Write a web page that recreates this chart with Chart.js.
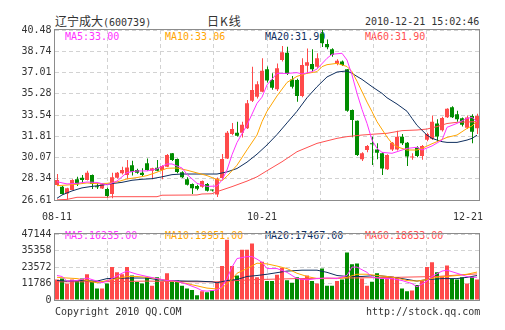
<!DOCTYPE html>
<html>
<head>
<meta charset="utf-8">
<script src="https://cdn.jsdelivr.net/npm/chart.js@4.4.0/dist/chart.umd.min.js"></script>
<style>
  body { margin: 0; background: #fff; }
  #box { position: relative; width: 505px; height: 330px; overflow: hidden;
         font-family: "DejaVu Sans Mono", monospace; font-size: 10px; color: #333; }
  #box canvas { position: absolute; left: 0; }
  .t { position: absolute; height: 12px; line-height: 12px; white-space: pre; }
  .cn { font-family: "Noto Sans CJK SC", sans-serif; font-size: 12px; }
</style>
</head>
<body>
<div id="box">
  <div class="t" style="left:55px;top:15px"><span class="cn">辽宁成大</span>(600739)</div>
  <div class="t cn" style="left:207px;top:15px;letter-spacing:1px">日K线</div>
  <div class="t" style="left:365px;top:16px">2010-12-21 15:02:46</div>
  <div id="legPx"></div>
  <div id="legVol"></div>
  <canvas id="kline" width="505" height="225" style="top:0"></canvas>
  <canvas id="vol" width="505" height="105" style="top:225px"></canvas>
  <div class="t" style="left:55px;top:306px">Copyright 2010 QQ.COM</div>
  <div class="t" style="left:366px;top:306px">http://stock.qq.com</div>
</div>
<script>
// 日K线 数据 (0 = 08-11 ... 84 = 12-21)
const openPx  = [27.83,27.70,27.15,27.43,28.30,28.43,28.24,28.65,27.70,27.55,27.50,27.10,28.43,28.79,28.65,29.44,29.06,28.84,29.60,29.00,
                 29.25,29.06,29.33,30.42,29.95,28.87,28.30,27.92,27.75,27.70,27.92,27.40,27.05,28.40,30.00,32.00,32.10,32.10,32.46,34.71,
                 35.04,35.45,37.27,36.40,35.64,38.03,38.63,36.45,36.40,35.10,37.57,37.70,37.49,40.20,39.34,38.90,37.71,37.90,37.27,33.95,
                 33.08,29.93,30.69,31.20,30.74,30.42,29.11,30.74,30.74,31.78,31.29,30.08,30.90,30.20,31.53,31.60,32.86,32.30,33.36,34.17,
                 33.60,33.28,32.50,33.46,32.46];
const highPx  = [28.73,27.75,27.60,28.30,28.50,28.65,29.00,28.70,27.97,28.00,27.60,28.84,28.90,29.33,29.87,29.82,29.15,29.20,30.00,29.25,
                 29.87,29.45,30.36,30.45,30.00,28.95,28.46,27.95,27.85,28.20,28.00,27.45,28.45,30.36,32.24,32.90,33.00,33.00,34.77,37.49,
                 36.30,38.17,37.50,36.95,37.75,39.17,39.12,36.72,36.50,38.17,38.98,38.90,38.58,40.48,39.70,39.00,38.10,38.00,37.30,34.00,
                 33.10,30.50,31.10,31.78,31.23,30.50,30.35,31.35,32.27,32.00,31.35,30.42,31.00,31.10,32.10,33.50,33.20,33.40,34.10,34.25,
                 33.90,33.35,33.50,33.60,33.65];
const lowPx   = [27.75,27.05,26.66,27.40,27.75,27.97,28.20,27.50,27.50,27.50,26.80,26.75,28.35,28.70,28.30,28.60,28.75,28.50,29.00,28.30,
                 28.95,28.30,29.30,29.80,28.80,28.40,27.80,27.10,27.40,27.60,27.30,27.30,26.85,28.30,29.95,31.90,31.80,31.70,32.40,34.60,
                 34.90,35.40,36.20,35.60,35.50,37.90,36.80,35.70,34.63,35.00,36.94,37.10,37.40,39.10,38.90,38.30,37.60,37.55,33.80,31.72,
                 30.20,29.80,30.50,29.46,29.93,28.65,29.05,30.60,30.65,31.10,29.38,29.90,30.10,29.90,31.40,31.50,31.45,32.20,33.30,33.30,
                 33.00,32.60,32.40,31.23,32.00];
const closePx = [28.24,27.10,27.56,28.24,27.90,28.24,28.84,27.92,27.66,27.90,26.94,28.46,28.84,29.06,29.27,28.92,28.84,28.65,29.06,29.20,
                 29.00,29.38,30.28,29.87,28.90,28.46,27.85,27.56,27.53,28.16,27.37,27.38,28.35,29.95,32.10,32.40,31.85,32.75,34.50,35.58,
                 36.05,37.16,36.35,35.77,37.35,38.66,36.89,35.86,35.10,37.62,37.84,37.27,38.17,39.40,39.07,38.44,37.98,37.62,33.90,33.14,
                 30.28,30.42,31.02,31.15,30.47,29.19,30.28,31.29,31.78,31.23,30.15,30.12,30.20,31.02,32.00,33.00,31.80,33.30,34.06,33.36,
                 33.20,32.75,33.35,32.18,33.46];
const volume  = [14600,15300,11700,14600,13900,15300,18400,13500,8300,8300,11700,23600,19800,18400,23600,17500,12800,11700,16200,10100,
                 16200,13000,19100,12800,13900,10100,8300,7200,3400,6300,5600,6700,12300,24200,43100,24200,17500,35900,35900,40400,
                 16200,27400,13500,13500,18000,22900,14100,12300,16200,15300,17500,13500,11700,22500,10100,10100,13500,14600,34000,25500,
                 26000,15300,10100,13000,19100,15300,16200,16800,16200,8300,6300,6700,10800,13500,23600,26900,19800,16800,24700,15300,
                 14600,16200,11700,16800,14600];

// 均线 [日序号, 值]
const ma5Px  = [[0,28.10],[2,27.92],[4,27.97],[6,28.08],[8,28.04],[10,27.85],[12,28.15],[14,28.85],[16,28.98],[18,28.98],[20,29.15],
                [22,29.55],[23,29.55],[25,29.22],[26,28.70],[28,27.97],[30,27.72],[32,27.75],[33,28.24],[34,29.06],[35,30.30],[36,31.30],
                [38,32.73],[40,34.50],[41,35.00],[42,36.00],[44,36.94],[46,36.94],[48,37.00],[49,36.89],[51,37.08],[52,37.30],[54,38.17],
                [55,38.50],[57,38.58],[58,38.03],[59,36.81],[60,35.31],[61,34.00],[62,32.86],[63,31.50],[64,30.82],[65,30.50],[67,30.42],
                [68,30.55],[70,30.82],[72,30.91],[73,30.69],[75,31.02],[77,31.50],[78,32.54],[80,32.86],[82,33.27],[83,33.35],[84,33.00]];
const ma10Px = [[0,27.78],[2,27.83],[4,27.90],[6,28.00],[8,27.94],[10,27.97],[12,28.08],[14,28.33],[16,28.44],[18,28.60],[20,28.88],
                [22,29.20],[24,29.22],[26,29.04],[28,28.82],[30,28.60],[32,28.28],[33,28.19],[34,28.55],[36,29.45],[38,30.70],[40,31.91],
                [41,33.00],[42,33.85],[44,35.10],[46,36.20],[48,36.70],[50,36.94],[52,37.08],[53,37.49],[54,37.65],[56,37.76],[58,37.50],
                [59,37.08],[60,36.30],[62,34.60],[63,33.82],[64,33.00],[66,31.75],[67,31.23],[68,30.95],[70,30.69],[72,30.69],[73,30.82],
                [75,31.20],[76,31.37],[78,31.72],[80,31.91],[82,32.45],[83,32.65],[84,33.06]];
const ma20Px = [[0,26.75],[1,27.02],[3,27.35],[5,27.60],[7,27.72],[9,27.82],[11,27.95],[13,28.05],[15,28.22],[17,28.30],[19,28.35],
                [21,28.50],[23,28.68],[25,28.73],[28,28.73],[32,28.73],[34,28.90],[36,29.18],[38,29.70],[40,30.35],[42,31.10],[44,31.95],
                [46,32.90],[48,33.85],[50,34.95],[52,35.85],[54,36.65],[56,37.05],[58,37.14],[59,36.94],[61,36.45],[63,35.86],[65,35.31],
                [66,34.95],[68,34.44],[70,33.85],[71,33.27],[72,32.70],[74,31.90],[75,31.64],[77,31.37],[78,31.31],[80,31.31],[82,31.50],
                [83,31.64],[84,31.90]];
const ma60Px = [[0,26.62],[2,26.66],[4,26.83],[10,26.83],[11,26.88],[20,26.88],[21,27.00],[28,27.02],[29,27.10],[31,27.12],[32,27.29],
                [35,27.70],[38,28.15],[40,28.50],[42,29.00],[45,29.73],[48,30.55],[52,31.23],[56,31.64],[58,31.78],[61,31.91],[64,32.00],
                [66,32.05],[69,32.27],[72,32.32],[74,32.40],[76,32.60],[78,32.85],[80,32.95],[84,33.00]];

const ma5Vol  = [[0,17500],[1,16800],[2,13500],[4,13900],[6,15700],[8,13500],[9,12300],[10,13500],[13,19100],[14,20650],[16,18400],
                 [18,16800],[20,15300],[22,13900],[24,13470],[26,11200],[28,8500],[29,6700],[30,6300],[32,7200],[33,9400],[34,15300],
                 [35,23500],[36,29600],[38,31000],[39,31000],[40,29200],[41,26900],[42,22450],[44,22450],[46,19750],[48,15300],[50,14400],
                 [52,15300],[54,15700],[56,15300],[58,17500],[59,23500],[60,23500],[62,19750],[63,16200],[65,15300],[67,15300],[69,13900],
                 [71,11700],[72,9400],[74,13500],[75,16800],[77,20650],[78,21300],[80,19100],[82,16800],[83,16200],[84,16235]];
const ma10Vol = [[0,16200],[2,15700],[4,15300],[6,13900],[8,12300],[10,13900],[12,15300],[14,16800],[16,16800],[18,16200],[20,15300],
                 [22,13900],[24,13000],[26,11700],[28,10100],[30,8500],[32,7900],[33,8500],[34,11700],[35,14600],[36,19100],[38,22450],
                 [40,26300],[42,25800],[44,24250],[46,22450],[48,19100],[50,16800],[52,15300],[56,15300],[58,16200],[60,18400],[62,18400],
                 [64,17500],[66,16800],[68,15700],[70,13900],[72,13500],[74,14600],[76,16200],[78,16800],[80,17500],[82,18400],[84,19951]];
const ma20Vol = [[0,13900],[2,13500],[5,13900],[8,13500],[10,15300],[15,15700],[18,15700],[20,14600],[22,13900],[26,13500],[28,13500],
                 [31,13000],[32,12300],[34,13900],[36,14600],[38,16800],[40,17500],[42,18400],[46,20650],[49,21300],[52,21300],[54,19750],
                 [56,17500],[58,16800],[61,16800],[64,17500],[66,16800],[69,15300],[72,13500],[74,14600],[77,15300],[80,15300],[82,16200],
                 [84,17467]];
const ma60Vol = [[0,13000],[8,13000],[18,13500],[28,13000],[32,13000],[36,13900],[40,14600],[48,15300],[58,15700],[68,16200],[76,16800],
                 [80,17800],[84,18633]];

const priceTicks = [26.61, 28.34, 30.07, 31.81, 33.54, 35.28, 37.01, 38.74, 40.48];
const volTicks = [0, 11786, 23572, 35358, 47144];
const dateIdx = [0, 41, 84];
const dateText = ['08-11', '10-21', '12-21'];
const legendPx = ['MA5:33.00', 'MA10:33.06', 'MA20:31.90', 'MA60:31.90'];
const legendVol = ['MA5:16235.00', 'MA10:19951.00', 'MA20:17467.00', 'MA60:18633.00'];

const RED = '#ff4a4a', GREEN = '#008c00';
const MA_COLORS = ['#ff33ff', '#ffa500', '#0f2f5f', '#ff5050'];
const GRID = '#d2d2d2';
const N = closePx.length;
const FONT = '"DejaVu Sans Mono", monospace';

Chart.defaults.font.family = FONT;
Chart.defaults.font.size = 10;

const barColor = closePx.map((c, i) => c >= openPx[i] ? RED : GREEN);
const gridX = [1, 2, 3, 4, 5, 6, 7].map(k => -0.5 + k * N / 8);

// 图例文字
function writeLegend(id, texts, top) {
  const el = document.getElementById(id);
  texts.forEach((t, k) => {
    const d = document.createElement('div');
    d.className = 't';
    d.style.left = (65 + k * 100) + 'px';
    d.style.top = top + 'px';
    d.style.color = MA_COLORS[k];
    d.textContent = t;
    el.appendChild(d);
  });
}
writeLegend('legPx', legendPx, 31);
writeLegend('legVol', legendVol, 230);

function maLines(series) {
  return series.map((s, k) => ({
    type: 'line',
    data: s.map(p => ({ x: p[0], y: p[1] })),
    borderColor: MA_COLORS[k],
    borderWidth: 1,
    pointRadius: 0,
    tension: 0,
    fill: false,
    order: 0
  }));
}

// 边框
const frame = {
  id: 'frame',
  afterDraw(chart) {
    const { ctx, chartArea: a } = chart;
    ctx.save();
    ctx.strokeStyle = '#8c8c8c';
    ctx.lineWidth = 1;
    ctx.strokeRect(a.left, a.top - 0.5, a.right - a.left, a.bottom - a.top + 1);
    ctx.restore();
  }
};

// 日期标签
const dateLabels = {
  id: 'dateLabels',
  afterDraw(chart) {
    const { ctx } = chart;
    const x = chart.scales.x;
    ctx.save();
    ctx.font = '10px ' + FONT;
    ctx.fillStyle = '#333';
    ctx.textBaseline = 'middle';
    dateIdx.forEach((idx, k) => {
      const w = ctx.measureText(dateText[k]).width;
      const left = Math.min(x.getPixelForValue(idx) - w / 2, 483 - w);
      ctx.fillText(dateText[k], left, 217);
    });
    ctx.restore();
  }
};

function xScale(min, extra) {
  return Object.assign({
    type: 'linear', min: min, max: min + N, offset: false,
    afterBuildTicks: s => { s.ticks = gridX.map(v => ({ value: v })); },
    afterFit: s => { s.height = 0; },
    ticks: { display: false },
    grid: { color: GRID, drawTicks: false, offset: false },
    border: { display: false, dash: [4, 3] }
  }, extra || {});
}

function yScale(min, max, ticks, fmt) {
  return {
    min: min, max: max,
    afterBuildTicks: s => { s.ticks = ticks.map(v => ({ value: v })); },
    afterFit: s => { s.width = 54.5; },
    ticks: { color: '#333', padding: 3, callback: fmt, font: { size: 10, family: FONT } },
    grid: { color: GRID, drawTicks: false },
    border: { display: false, dash: [4, 3] }
  };
}

const common = {
  responsive: false,
  animation: false,
  events: [],
  plugins: { legend: { display: false }, tooltip: { enabled: false } }
};

// K线图
new Chart(document.getElementById('kline'), {
  type: 'bar',
  data: {
    datasets: [
      ...maLines([ma5Px, ma10Px, ma20Px, ma60Px]),
      {
        data: closePx.map((c, i) => ({ x: i, y: [Math.min(openPx[i], c), Math.max(openPx[i], c)] })),
        backgroundColor: barColor,
        barThickness: 4, minBarLength: 1, grouped: false, inflateAmount: 0, borderWidth: 0,
        order: 1
      },
      {
        data: closePx.map((c, i) => ({ x: i, y: [lowPx[i], highPx[i]] })),
        xAxisID: 'xw',
        backgroundColor: barColor,
        barThickness: 1, grouped: false, inflateAmount: 0, borderWidth: 0,
        order: 2
      }
    ]
  },
  options: Object.assign({}, common, {
    layout: { padding: { top: 30, right: 25.5, bottom: 25, left: 0 } },
    scales: {
      x: xScale(-0.5),
      xw: { type: 'linear', display: false, min: -0.6, max: N - 0.6, offset: false },
      y: yScale(26.61, 40.48, priceTicks, v => v.toFixed(2))
    }
  }),
  plugins: [frame, dateLabels]
});

// 成交量
new Chart(document.getElementById('vol'), {
  type: 'bar',
  data: {
    datasets: [
      ...maLines([ma5Vol, ma10Vol, ma20Vol, ma60Vol]),
      {
        data: volume.map((v, i) => ({ x: i, y: v })),
        backgroundColor: barColor,
        barThickness: 4, grouped: false, inflateAmount: 0, borderWidth: 0,
        order: 1
      }
    ]
  },
  options: Object.assign({}, common, {
    layout: { padding: { top: 5, right: 25.5, bottom: 30, left: 0 } },
    scales: {
      x: xScale(-0.5),
      y: yScale(0, 47144, volTicks, v => String(Math.round(v)))
    }
  }),
  plugins: [frame]
});
</script>
</body>
</html>
